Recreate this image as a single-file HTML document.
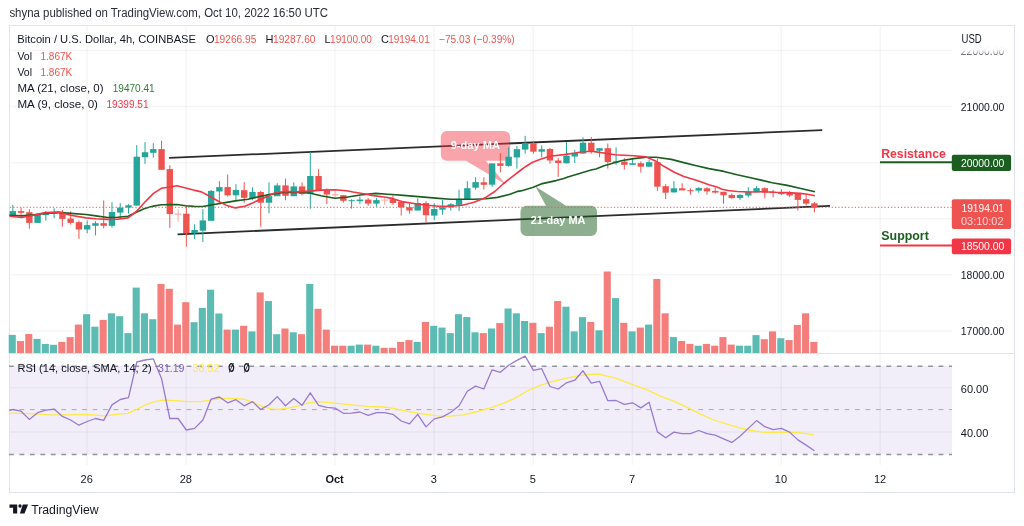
<!DOCTYPE html>
<html lang="en"><head><meta charset="utf-8"><title>BTCUSD 4h chart</title>
<style>html,body{margin:0;padding:0;background:#fff;}body{width:1024px;height:526px;overflow:hidden;font-family:"Liberation Sans", sans-serif;}svg{display:block;}svg text{font-family:"Liberation Sans", sans-serif;}</style>
</head><body>
<svg width="1024" height="526" viewBox="0 0 1024 526">
<rect width="1024" height="526" fill="#fff"/>
<text x="9.4" y="17.3" font-size="12" fill="#2a2e39" textLength="318.6" lengthAdjust="spacingAndGlyphs">shyna published on TradingView.com, Oct 10, 2022 16:50 UTC</text>
<rect x="9.5" y="25.5" width="1005" height="467" fill="#fff" stroke="#e0e3eb" stroke-width="1"/>
<rect x="10" y="366" width="942" height="88.5" fill="#7e57c2" fill-opacity="0.1"/>
<g stroke="#2a2e39" stroke-width="1.5" stroke-opacity="0.045">
<line x1="10" x2="952" y1="50.5" y2="50.5"/>
<line x1="10" x2="952" y1="106.6" y2="106.6"/>
<line x1="10" x2="952" y1="162.7" y2="162.7"/>
<line x1="10" x2="952" y1="218.7" y2="218.7"/>
<line x1="10" x2="952" y1="274.8" y2="274.8"/>
<line x1="10" x2="952" y1="330.9" y2="330.9"/>
<line x1="10" x2="952" y1="387.8" y2="387.8"/>
<line x1="10" x2="952" y1="432.1" y2="432.1"/>
<line x1="87.0" x2="87.0" y1="26" y2="465"/>
<line x1="186.1" x2="186.1" y1="26" y2="465"/>
<line x1="334.9" x2="334.9" y1="26" y2="465"/>
<line x1="434.1" x2="434.1" y1="26" y2="465"/>
<line x1="533.2" x2="533.2" y1="26" y2="465"/>
<line x1="632.4" x2="632.4" y1="26" y2="465"/>
<line x1="781.2" x2="781.2" y1="26" y2="465"/>
<line x1="880.3" x2="880.3" y1="26" y2="465"/>
</g>
<line x1="10" x2="1014" y1="353.5" y2="353.5" stroke="#e0e3eb" stroke-width="1"/>
<g>
<rect x="8.70" y="334.9" width="7.1" height="18.1" fill="#5cbcb3"/>
<rect x="16.96" y="341.0" width="7.1" height="12.0" fill="#f37e7c"/>
<rect x="25.23" y="334.0" width="7.1" height="19.0" fill="#f37e7c"/>
<rect x="33.49" y="338.9" width="7.1" height="14.1" fill="#5cbcb3"/>
<rect x="41.76" y="343.9" width="7.1" height="9.1" fill="#5cbcb3"/>
<rect x="50.02" y="344.8" width="7.1" height="8.2" fill="#5cbcb3"/>
<rect x="58.28" y="341.9" width="7.1" height="11.1" fill="#f37e7c"/>
<rect x="66.55" y="337.1" width="7.1" height="15.9" fill="#f37e7c"/>
<rect x="74.81" y="324.6" width="7.1" height="28.4" fill="#f37e7c"/>
<rect x="83.08" y="314.2" width="7.1" height="38.8" fill="#5cbcb3"/>
<rect x="91.34" y="326.7" width="7.1" height="26.3" fill="#5cbcb3"/>
<rect x="99.60" y="319.9" width="7.1" height="33.1" fill="#f37e7c"/>
<rect x="107.87" y="313.3" width="7.1" height="39.7" fill="#5cbcb3"/>
<rect x="116.13" y="316.2" width="7.1" height="36.8" fill="#5cbcb3"/>
<rect x="124.40" y="333.1" width="7.1" height="19.9" fill="#5cbcb3"/>
<rect x="132.66" y="287.6" width="7.1" height="65.4" fill="#5cbcb3"/>
<rect x="140.92" y="313.3" width="7.1" height="39.7" fill="#5cbcb3"/>
<rect x="149.19" y="319.2" width="7.1" height="33.8" fill="#5cbcb3"/>
<rect x="157.45" y="284.0" width="7.1" height="69.0" fill="#f37e7c"/>
<rect x="165.72" y="288.8" width="7.1" height="64.2" fill="#f37e7c"/>
<rect x="173.98" y="324.6" width="7.1" height="28.4" fill="#f37e7c"/>
<rect x="182.24" y="302.2" width="7.1" height="50.8" fill="#f37e7c"/>
<rect x="190.51" y="322.2" width="7.1" height="30.8" fill="#5cbcb3"/>
<rect x="198.77" y="307.9" width="7.1" height="45.1" fill="#5cbcb3"/>
<rect x="207.04" y="289.7" width="7.1" height="63.3" fill="#5cbcb3"/>
<rect x="215.30" y="313.5" width="7.1" height="39.5" fill="#5cbcb3"/>
<rect x="223.56" y="329.6" width="7.1" height="23.4" fill="#f37e7c"/>
<rect x="231.83" y="329.6" width="7.1" height="23.4" fill="#5cbcb3"/>
<rect x="240.09" y="325.8" width="7.1" height="27.2" fill="#f37e7c"/>
<rect x="248.36" y="331.4" width="7.1" height="21.6" fill="#5cbcb3"/>
<rect x="256.62" y="292.4" width="7.1" height="60.6" fill="#f37e7c"/>
<rect x="264.88" y="301.0" width="7.1" height="52.0" fill="#5cbcb3"/>
<rect x="273.15" y="334.2" width="7.1" height="18.8" fill="#5cbcb3"/>
<rect x="281.41" y="328.5" width="7.1" height="24.5" fill="#f37e7c"/>
<rect x="289.68" y="332.3" width="7.1" height="20.7" fill="#5cbcb3"/>
<rect x="297.94" y="334.2" width="7.1" height="18.8" fill="#f37e7c"/>
<rect x="306.20" y="284.0" width="7.1" height="69.0" fill="#5cbcb3"/>
<rect x="314.47" y="308.8" width="7.1" height="44.2" fill="#f37e7c"/>
<rect x="322.73" y="329.6" width="7.1" height="23.4" fill="#f37e7c"/>
<rect x="331.00" y="345.7" width="7.1" height="7.3" fill="#f37e7c"/>
<rect x="339.26" y="345.7" width="7.1" height="7.3" fill="#f37e7c"/>
<rect x="347.52" y="345.7" width="7.1" height="7.3" fill="#5cbcb3"/>
<rect x="355.79" y="344.6" width="7.1" height="8.4" fill="#5cbcb3"/>
<rect x="364.05" y="344.6" width="7.1" height="8.4" fill="#f37e7c"/>
<rect x="372.32" y="345.7" width="7.1" height="7.3" fill="#5cbcb3"/>
<rect x="380.58" y="347.8" width="7.1" height="5.2" fill="#f37e7c"/>
<rect x="388.84" y="347.8" width="7.1" height="5.2" fill="#f37e7c"/>
<rect x="397.11" y="341.9" width="7.1" height="11.1" fill="#f37e7c"/>
<rect x="405.37" y="340.1" width="7.1" height="12.9" fill="#f37e7c"/>
<rect x="413.64" y="341.9" width="7.1" height="11.1" fill="#5cbcb3"/>
<rect x="421.90" y="321.9" width="7.1" height="31.1" fill="#f37e7c"/>
<rect x="430.16" y="325.8" width="7.1" height="27.2" fill="#5cbcb3"/>
<rect x="438.43" y="327.6" width="7.1" height="25.4" fill="#5cbcb3"/>
<rect x="446.69" y="333.1" width="7.1" height="19.9" fill="#5cbcb3"/>
<rect x="454.96" y="314.2" width="7.1" height="38.8" fill="#5cbcb3"/>
<rect x="463.22" y="317.1" width="7.1" height="35.9" fill="#5cbcb3"/>
<rect x="471.48" y="332.3" width="7.1" height="20.7" fill="#5cbcb3"/>
<rect x="479.75" y="333.1" width="7.1" height="19.9" fill="#f37e7c"/>
<rect x="488.01" y="328.5" width="7.1" height="24.5" fill="#5cbcb3"/>
<rect x="496.28" y="323.1" width="7.1" height="29.9" fill="#f37e7c"/>
<rect x="504.54" y="308.5" width="7.1" height="44.5" fill="#5cbcb3"/>
<rect x="512.80" y="313.3" width="7.1" height="39.7" fill="#5cbcb3"/>
<rect x="521.07" y="321.0" width="7.1" height="32.0" fill="#5cbcb3"/>
<rect x="529.33" y="322.8" width="7.1" height="30.2" fill="#f37e7c"/>
<rect x="537.60" y="333.1" width="7.1" height="19.9" fill="#5cbcb3"/>
<rect x="545.86" y="326.7" width="7.1" height="26.3" fill="#f37e7c"/>
<rect x="554.12" y="301.0" width="7.1" height="52.0" fill="#f37e7c"/>
<rect x="562.39" y="306.7" width="7.1" height="46.3" fill="#5cbcb3"/>
<rect x="570.65" y="331.4" width="7.1" height="21.6" fill="#5cbcb3"/>
<rect x="578.92" y="317.1" width="7.1" height="35.9" fill="#5cbcb3"/>
<rect x="587.18" y="321.9" width="7.1" height="31.1" fill="#f37e7c"/>
<rect x="595.44" y="330.3" width="7.1" height="22.7" fill="#5cbcb3"/>
<rect x="603.71" y="271.5" width="7.1" height="81.5" fill="#f37e7c"/>
<rect x="611.97" y="298.1" width="7.1" height="54.9" fill="#5cbcb3"/>
<rect x="620.24" y="322.8" width="7.1" height="30.2" fill="#f37e7c"/>
<rect x="628.50" y="331.4" width="7.1" height="21.6" fill="#5cbcb3"/>
<rect x="636.76" y="327.6" width="7.1" height="25.4" fill="#f37e7c"/>
<rect x="645.03" y="324.6" width="7.1" height="28.4" fill="#5cbcb3"/>
<rect x="653.29" y="279.0" width="7.1" height="74.0" fill="#f37e7c"/>
<rect x="661.56" y="313.3" width="7.1" height="39.7" fill="#f37e7c"/>
<rect x="669.82" y="337.1" width="7.1" height="15.9" fill="#5cbcb3"/>
<rect x="678.08" y="341.0" width="7.1" height="12.0" fill="#f37e7c"/>
<rect x="686.35" y="343.9" width="7.1" height="9.1" fill="#f37e7c"/>
<rect x="694.61" y="345.7" width="7.1" height="7.3" fill="#5cbcb3"/>
<rect x="702.88" y="343.9" width="7.1" height="9.1" fill="#f37e7c"/>
<rect x="711.14" y="345.7" width="7.1" height="7.3" fill="#f37e7c"/>
<rect x="719.40" y="337.1" width="7.1" height="15.9" fill="#f37e7c"/>
<rect x="727.67" y="344.6" width="7.1" height="8.4" fill="#f37e7c"/>
<rect x="735.93" y="345.7" width="7.1" height="7.3" fill="#5cbcb3"/>
<rect x="744.20" y="345.7" width="7.1" height="7.3" fill="#5cbcb3"/>
<rect x="752.46" y="335.1" width="7.1" height="17.9" fill="#5cbcb3"/>
<rect x="760.72" y="339.2" width="7.1" height="13.8" fill="#f37e7c"/>
<rect x="768.99" y="331.4" width="7.1" height="21.6" fill="#f37e7c"/>
<rect x="777.25" y="338.2" width="7.1" height="14.8" fill="#5cbcb3"/>
<rect x="785.52" y="340.1" width="7.1" height="12.9" fill="#f37e7c"/>
<rect x="793.78" y="324.9" width="7.1" height="28.1" fill="#f37e7c"/>
<rect x="802.04" y="313.3" width="7.1" height="39.7" fill="#f37e7c"/>
<rect x="810.31" y="341.9" width="7.1" height="11.1" fill="#f37e7c"/>
</g>
<g stroke="#2b2b2b" stroke-width="1.8" stroke-linecap="butt">
<line x1="169.1" y1="157.9" x2="822.2" y2="130.1"/>
<line x1="177.6" y1="234.35" x2="830" y2="205.9"/>
</g>
<path d="M446.8,131 H504.2 a6,6 0 0 1 6,6 V154.7 a6,6 0 0 1 -6,6 H485.7 L506.3,184.7 L466,160.7 H446.8 a6,6 0 0 1 -6,-6 V137 a6,6 0 0 1 6,-6 Z" fill="#f23645" fill-opacity="0.45"/>
<text x="450.7" y="148.9" font-size="11.5" fill="#fff" font-weight="bold" textLength="49.3" lengthAdjust="spacingAndGlyphs">9-day MA</text>
<path d="M526.5,205.8 H546 L535.5,186.6 L566,205.8 H591 a6,6 0 0 1 6,6 V230 a6,6 0 0 1 -6,6 H526.5 a6,6 0 0 1 -6,-6 V211.8 a6,6 0 0 1 6,-6 Z" fill="#1b5e20" fill-opacity="0.5"/>
<text x="530.8" y="223.5" font-size="11.5" fill="#fff" font-weight="bold" textLength="54.6" lengthAdjust="spacingAndGlyphs">21-day MA</text>
<g>
<rect x="12.30" y="205.0" width="1" height="12.0" fill="#26a69a"/>
<rect x="9.60" y="211.1" width="6.4" height="5.0" fill="#26a69a"/>
<rect x="20.56" y="207.6" width="1" height="8.7" fill="#ef5350"/>
<rect x="17.86" y="211.1" width="6.4" height="1.7" fill="#ef5350"/>
<rect x="28.83" y="209.2" width="1" height="19.4" fill="#ef5350"/>
<rect x="26.13" y="212.2" width="6.4" height="10.7" fill="#ef5350"/>
<rect x="37.09" y="214.8" width="1" height="8.1" fill="#26a69a"/>
<rect x="34.39" y="214.8" width="6.4" height="8.1" fill="#26a69a"/>
<rect x="45.36" y="211.0" width="1" height="9.7" fill="#26a69a"/>
<rect x="42.66" y="213.2" width="6.4" height="1.9" fill="#26a69a"/>
<rect x="53.62" y="208.2" width="1" height="10.0" fill="#26a69a"/>
<rect x="50.92" y="212.0" width="6.4" height="1.8" fill="#26a69a"/>
<rect x="61.88" y="210.0" width="1" height="16.8" fill="#ef5350"/>
<rect x="59.18" y="212.2" width="6.4" height="6.7" fill="#ef5350"/>
<rect x="70.15" y="211.3" width="1" height="13.2" fill="#ef5350"/>
<rect x="67.45" y="218.6" width="6.4" height="4.3" fill="#ef5350"/>
<rect x="78.41" y="220.5" width="1" height="18.4" fill="#ef5350"/>
<rect x="75.71" y="222.2" width="6.4" height="7.3" fill="#ef5350"/>
<rect x="86.68" y="220.5" width="1" height="12.8" fill="#26a69a"/>
<rect x="83.98" y="225.1" width="6.4" height="4.4" fill="#26a69a"/>
<rect x="94.94" y="221.1" width="1" height="14.3" fill="#26a69a"/>
<rect x="92.24" y="223.2" width="6.4" height="2.6" fill="#26a69a"/>
<rect x="103.20" y="200.4" width="1" height="28.1" fill="#ef5350"/>
<rect x="100.50" y="223.2" width="6.4" height="2.6" fill="#ef5350"/>
<rect x="111.47" y="202.2" width="1" height="25.4" fill="#26a69a"/>
<rect x="108.77" y="212.0" width="6.4" height="13.8" fill="#26a69a"/>
<rect x="119.73" y="203.2" width="1" height="15.4" fill="#26a69a"/>
<rect x="117.03" y="207.6" width="6.4" height="5.0" fill="#26a69a"/>
<rect x="128.00" y="204.2" width="1" height="9.4" fill="#26a69a"/>
<rect x="125.30" y="205.3" width="6.4" height="2.3" fill="#26a69a"/>
<rect x="136.26" y="145.1" width="1" height="60.5" fill="#26a69a"/>
<rect x="133.56" y="156.7" width="6.4" height="48.9" fill="#26a69a"/>
<rect x="144.52" y="142.2" width="1" height="21.7" fill="#26a69a"/>
<rect x="141.82" y="152.2" width="6.4" height="5.0" fill="#26a69a"/>
<rect x="152.79" y="143.2" width="1" height="14.4" fill="#26a69a"/>
<rect x="150.09" y="149.1" width="6.4" height="3.7" fill="#26a69a"/>
<rect x="161.05" y="140.7" width="1" height="29.1" fill="#ef5350"/>
<rect x="158.35" y="149.1" width="6.4" height="20.7" fill="#ef5350"/>
<rect x="169.32" y="165.1" width="1" height="62.8" fill="#ef5350"/>
<rect x="166.62" y="169.1" width="6.4" height="45.0" fill="#ef5350"/>
<rect x="177.58" y="209.1" width="1" height="12.5" fill="#f7a9a7"/>
<rect x="174.88" y="213.5" width="6.4" height="1.2" fill="#f7a9a7"/>
<rect x="185.84" y="205.3" width="1" height="41.4" fill="#ef5350"/>
<rect x="183.14" y="213.7" width="6.4" height="19.5" fill="#ef5350"/>
<rect x="194.11" y="224.2" width="1" height="15.0" fill="#26a69a"/>
<rect x="191.41" y="230.0" width="6.4" height="3.2" fill="#26a69a"/>
<rect x="202.37" y="209.1" width="1" height="32.9" fill="#26a69a"/>
<rect x="199.67" y="220.4" width="6.4" height="10.3" fill="#26a69a"/>
<rect x="210.64" y="190.0" width="1" height="30.8" fill="#26a69a"/>
<rect x="207.94" y="190.9" width="6.4" height="29.9" fill="#26a69a"/>
<rect x="218.90" y="181.2" width="1" height="22.2" fill="#26a69a"/>
<rect x="216.20" y="187.1" width="6.4" height="4.4" fill="#26a69a"/>
<rect x="227.16" y="174.5" width="1" height="22.0" fill="#ef5350"/>
<rect x="224.46" y="187.1" width="6.4" height="8.2" fill="#ef5350"/>
<rect x="235.43" y="184.2" width="1" height="16.7" fill="#26a69a"/>
<rect x="232.73" y="190.0" width="6.4" height="5.3" fill="#26a69a"/>
<rect x="243.69" y="182.2" width="1" height="20.6" fill="#ef5350"/>
<rect x="240.99" y="190.2" width="6.4" height="7.6" fill="#ef5350"/>
<rect x="251.96" y="187.3" width="1" height="12.9" fill="#26a69a"/>
<rect x="249.26" y="192.0" width="6.4" height="6.3" fill="#26a69a"/>
<rect x="260.22" y="190.8" width="1" height="35.9" fill="#ef5350"/>
<rect x="257.52" y="192.0" width="6.4" height="10.7" fill="#ef5350"/>
<rect x="268.48" y="182.4" width="1" height="31.0" fill="#26a69a"/>
<rect x="265.78" y="196.2" width="6.4" height="6.5" fill="#26a69a"/>
<rect x="276.75" y="183.2" width="1" height="13.0" fill="#26a69a"/>
<rect x="274.05" y="185.4" width="6.4" height="10.8" fill="#26a69a"/>
<rect x="285.01" y="178.6" width="1" height="21.6" fill="#ef5350"/>
<rect x="282.31" y="185.4" width="6.4" height="10.4" fill="#ef5350"/>
<rect x="293.28" y="182.4" width="1" height="13.8" fill="#26a69a"/>
<rect x="290.58" y="186.4" width="6.4" height="9.8" fill="#26a69a"/>
<rect x="301.54" y="182.4" width="1" height="13.0" fill="#ef5350"/>
<rect x="298.84" y="186.4" width="6.4" height="7.5" fill="#ef5350"/>
<rect x="309.80" y="151.9" width="1" height="56.8" fill="#26a69a"/>
<rect x="307.10" y="176.0" width="6.4" height="17.9" fill="#26a69a"/>
<rect x="318.07" y="169.1" width="1" height="21.7" fill="#ef5350"/>
<rect x="315.37" y="176.0" width="6.4" height="14.8" fill="#ef5350"/>
<rect x="326.33" y="188.3" width="1" height="15.7" fill="#ef5350"/>
<rect x="323.63" y="190.4" width="6.4" height="4.1" fill="#ef5350"/>
<rect x="334.60" y="190.8" width="1" height="7.5" fill="#f7a9a7"/>
<rect x="331.90" y="194.2" width="6.4" height="1.2" fill="#f7a9a7"/>
<rect x="342.86" y="195.2" width="1" height="7.5" fill="#ef5350"/>
<rect x="340.16" y="195.2" width="6.4" height="5.6" fill="#ef5350"/>
<rect x="351.12" y="199.2" width="1" height="9.5" fill="#26a69a"/>
<rect x="348.42" y="200.2" width="6.4" height="1.0" fill="#26a69a"/>
<rect x="359.39" y="196.4" width="1" height="7.6" fill="#26a69a"/>
<rect x="356.69" y="199.6" width="6.4" height="1.6" fill="#26a69a"/>
<rect x="367.65" y="198.0" width="1" height="7.9" fill="#ef5350"/>
<rect x="364.95" y="199.6" width="6.4" height="4.0" fill="#ef5350"/>
<rect x="375.92" y="198.0" width="1" height="8.8" fill="#26a69a"/>
<rect x="373.22" y="200.1" width="6.4" height="3.5" fill="#26a69a"/>
<rect x="384.18" y="198.0" width="1" height="6.9" fill="#f7a9a7"/>
<rect x="381.48" y="199.6" width="6.4" height="1.0" fill="#f7a9a7"/>
<rect x="392.44" y="195.5" width="1" height="9.4" fill="#ef5350"/>
<rect x="389.74" y="199.2" width="6.4" height="3.8" fill="#ef5350"/>
<rect x="400.71" y="201.8" width="1" height="13.8" fill="#ef5350"/>
<rect x="398.01" y="201.8" width="6.4" height="5.6" fill="#ef5350"/>
<rect x="408.97" y="203.6" width="1" height="10.1" fill="#ef5350"/>
<rect x="406.27" y="207.2" width="6.4" height="3.3" fill="#ef5350"/>
<rect x="417.24" y="198.4" width="1" height="12.1" fill="#26a69a"/>
<rect x="414.54" y="203.0" width="6.4" height="7.5" fill="#26a69a"/>
<rect x="425.50" y="201.1" width="1" height="21.4" fill="#ef5350"/>
<rect x="422.80" y="203.0" width="6.4" height="12.2" fill="#ef5350"/>
<rect x="433.76" y="203.3" width="1" height="16.9" fill="#26a69a"/>
<rect x="431.06" y="209.0" width="6.4" height="6.6" fill="#26a69a"/>
<rect x="442.03" y="200.1" width="1" height="14.6" fill="#26a69a"/>
<rect x="439.33" y="207.2" width="6.4" height="2.5" fill="#26a69a"/>
<rect x="450.29" y="203.0" width="1" height="7.5" fill="#26a69a"/>
<rect x="447.59" y="204.3" width="6.4" height="3.1" fill="#26a69a"/>
<rect x="458.56" y="189.8" width="1" height="21.1" fill="#26a69a"/>
<rect x="455.86" y="199.2" width="6.4" height="5.7" fill="#26a69a"/>
<rect x="466.82" y="181.1" width="1" height="18.8" fill="#26a69a"/>
<rect x="464.12" y="188.2" width="6.4" height="11.7" fill="#26a69a"/>
<rect x="475.08" y="177.3" width="1" height="12.5" fill="#26a69a"/>
<rect x="472.38" y="182.1" width="6.4" height="5.6" fill="#26a69a"/>
<rect x="483.35" y="177.3" width="1" height="12.3" fill="#ef5350"/>
<rect x="480.65" y="182.3" width="6.4" height="2.5" fill="#ef5350"/>
<rect x="491.61" y="163.4" width="1" height="23.5" fill="#26a69a"/>
<rect x="488.91" y="163.4" width="6.4" height="21.3" fill="#26a69a"/>
<rect x="499.88" y="153.0" width="1" height="19.4" fill="#ef5350"/>
<rect x="497.18" y="163.3" width="6.4" height="2.6" fill="#ef5350"/>
<rect x="508.14" y="147.3" width="1" height="19.5" fill="#26a69a"/>
<rect x="505.44" y="156.7" width="6.4" height="9.2" fill="#26a69a"/>
<rect x="516.40" y="146.1" width="1" height="22.6" fill="#26a69a"/>
<rect x="513.70" y="149.2" width="6.4" height="8.2" fill="#26a69a"/>
<rect x="524.67" y="135.8" width="1" height="17.8" fill="#26a69a"/>
<rect x="521.97" y="143.3" width="6.4" height="6.3" fill="#26a69a"/>
<rect x="532.93" y="141.7" width="1" height="11.9" fill="#ef5350"/>
<rect x="530.23" y="143.3" width="6.4" height="8.4" fill="#ef5350"/>
<rect x="541.20" y="145.4" width="1" height="12.0" fill="#26a69a"/>
<rect x="538.50" y="149.2" width="6.4" height="2.5" fill="#26a69a"/>
<rect x="549.46" y="148.0" width="1" height="15.6" fill="#ef5350"/>
<rect x="546.76" y="149.0" width="6.4" height="11.5" fill="#ef5350"/>
<rect x="557.72" y="158.0" width="1" height="18.8" fill="#ef5350"/>
<rect x="555.02" y="160.5" width="6.4" height="2.5" fill="#ef5350"/>
<rect x="565.99" y="142.1" width="1" height="21.5" fill="#26a69a"/>
<rect x="563.29" y="155.7" width="6.4" height="7.6" fill="#26a69a"/>
<rect x="574.25" y="149.8" width="1" height="13.2" fill="#26a69a"/>
<rect x="571.55" y="153.0" width="6.4" height="3.5" fill="#26a69a"/>
<rect x="582.52" y="137.3" width="1" height="16.3" fill="#26a69a"/>
<rect x="579.82" y="142.7" width="6.4" height="10.9" fill="#26a69a"/>
<rect x="590.78" y="137.0" width="1" height="16.6" fill="#ef5350"/>
<rect x="588.08" y="142.7" width="6.4" height="9.0" fill="#ef5350"/>
<rect x="599.04" y="148.2" width="1" height="9.1" fill="#26a69a"/>
<rect x="596.34" y="148.2" width="6.4" height="2.6" fill="#26a69a"/>
<rect x="607.31" y="143.5" width="1" height="25.1" fill="#ef5350"/>
<rect x="604.61" y="148.2" width="6.4" height="13.8" fill="#ef5350"/>
<rect x="615.57" y="147.3" width="1" height="17.5" fill="#26a69a"/>
<rect x="612.87" y="161.3" width="6.4" height="1.3" fill="#26a69a"/>
<rect x="623.84" y="158.2" width="1" height="11.3" fill="#ef5350"/>
<rect x="621.14" y="161.6" width="6.4" height="3.2" fill="#ef5350"/>
<rect x="632.10" y="158.8" width="1" height="6.0" fill="#26a69a"/>
<rect x="629.40" y="163.2" width="6.4" height="1.6" fill="#26a69a"/>
<rect x="640.36" y="161.3" width="1" height="11.3" fill="#ef5350"/>
<rect x="637.66" y="163.2" width="6.4" height="3.5" fill="#ef5350"/>
<rect x="648.63" y="160.1" width="1" height="6.6" fill="#26a69a"/>
<rect x="645.93" y="162.2" width="6.4" height="4.5" fill="#26a69a"/>
<rect x="656.89" y="158.8" width="1" height="32.0" fill="#ef5350"/>
<rect x="654.19" y="162.2" width="6.4" height="24.5" fill="#ef5350"/>
<rect x="665.16" y="184.2" width="1" height="15.0" fill="#ef5350"/>
<rect x="662.46" y="186.2" width="6.4" height="6.5" fill="#ef5350"/>
<rect x="673.42" y="181.2" width="1" height="11.2" fill="#26a69a"/>
<rect x="670.72" y="188.3" width="6.4" height="4.1" fill="#26a69a"/>
<rect x="681.68" y="183.3" width="1" height="7.1" fill="#ef5350"/>
<rect x="678.98" y="188.3" width="6.4" height="2.1" fill="#ef5350"/>
<rect x="689.95" y="188.3" width="1" height="6.3" fill="#ef5350"/>
<rect x="687.25" y="190.2" width="6.4" height="1.0" fill="#ef5350"/>
<rect x="698.21" y="187.1" width="1" height="5.6" fill="#26a69a"/>
<rect x="695.51" y="188.1" width="6.4" height="2.5" fill="#26a69a"/>
<rect x="706.48" y="187.1" width="1" height="7.5" fill="#ef5350"/>
<rect x="703.78" y="188.3" width="6.4" height="3.1" fill="#ef5350"/>
<rect x="714.74" y="187.8" width="1" height="5.6" fill="#ef5350"/>
<rect x="712.04" y="190.9" width="6.4" height="1.7" fill="#ef5350"/>
<rect x="723.00" y="191.8" width="1" height="12.0" fill="#ef5350"/>
<rect x="720.30" y="191.8" width="6.4" height="3.4" fill="#ef5350"/>
<rect x="731.27" y="193.4" width="1" height="5.5" fill="#ef5350"/>
<rect x="728.57" y="194.9" width="6.4" height="3.1" fill="#ef5350"/>
<rect x="739.53" y="194.2" width="1" height="5.7" fill="#26a69a"/>
<rect x="736.83" y="194.9" width="6.4" height="3.1" fill="#26a69a"/>
<rect x="747.80" y="187.3" width="1" height="10.1" fill="#26a69a"/>
<rect x="745.10" y="191.7" width="6.4" height="3.8" fill="#26a69a"/>
<rect x="756.06" y="186.1" width="1" height="6.2" fill="#26a69a"/>
<rect x="753.36" y="188.2" width="6.4" height="4.1" fill="#26a69a"/>
<rect x="764.32" y="187.3" width="1" height="11.1" fill="#ef5350"/>
<rect x="761.62" y="188.2" width="6.4" height="4.4" fill="#ef5350"/>
<rect x="772.59" y="189.8" width="1" height="7.6" fill="#ef5350"/>
<rect x="769.89" y="191.7" width="6.4" height="1.0" fill="#ef5350"/>
<rect x="780.85" y="189.2" width="1" height="6.0" fill="#26a69a"/>
<rect x="778.15" y="192.6" width="6.4" height="1.6" fill="#26a69a"/>
<rect x="789.12" y="191.1" width="1" height="6.0" fill="#ef5350"/>
<rect x="786.42" y="192.6" width="6.4" height="2.9" fill="#ef5350"/>
<rect x="797.38" y="193.9" width="1" height="16.6" fill="#ef5350"/>
<rect x="794.68" y="193.9" width="6.4" height="6.0" fill="#ef5350"/>
<rect x="805.64" y="194.9" width="1" height="10.6" fill="#ef5350"/>
<rect x="802.94" y="199.2" width="6.4" height="4.4" fill="#ef5350"/>
<rect x="813.91" y="202.1" width="1" height="10.3" fill="#ef5350"/>
<rect x="811.21" y="203.3" width="6.4" height="4.1" fill="#ef5350"/>
</g>
<path d="M9.5,215.3 L21.7,215.9 L33.4,214.9 L45.1,213.4 L58.8,212.4 L70.5,213.4 L86.1,214.5 L95.9,215.9 L107.6,217.5 L117.4,217.3 L128.1,216.3 L136.9,212.0 L144.7,208.5 L153.5,206.1 L161.3,204.8 L170.1,204.6 L176.9,204.5 L185.7,205.7 L193.6,206.4 L202.8,206.5 L211.7,204.9 L215.4,204.3 L226.7,202.4 L235.4,200.9 L248.0,199.3 L258.6,196.8 L270.3,194.4 L284.0,192.5 L297.7,192.5 L309.4,193.0 L321.1,195.8 L334.8,198.3 L346.5,197.3 L360.2,195.0 L375.8,193.4 L387.5,194.2 L392.0,194.5 L403.7,195.4 L415.4,196.4 L427.2,197.4 L438.9,198.4 L450.6,199.3 L462.3,199.3 L474.0,199.3 L485.8,198.8 L497.5,197.4 L509.2,194.5 L517.4,191.4 L520.9,190.9 L532.6,187.6 L541.2,183.9 L556.1,180.6 L563.8,178.5 L567.8,176.9 L579.5,173.4 L582.7,172.4 L592.0,169.8 L596.0,169.0 L604.0,165.7 L608.5,164.5 L621.1,160.7 L633.6,158.6 L646.2,157.3 L656.2,157.3 L671.3,159.4 L683.8,162.6 L696.4,165.7 L708.9,168.6 L724.0,171.4 L737.1,174.8 L749.6,177.5 L762.2,180.4 L772.2,182.7 L787.3,185.4 L799.8,188.3 L814.9,191.7" fill="none" stroke="#1b5e20" stroke-width="1.6" stroke-linejoin="round"/>
<path d="M9.5,216.3 L21.7,217.5 L33.4,215.3 L45.1,212.6 L58.8,212.0 L70.5,215.3 L86.1,217.9 L95.9,218.8 L107.6,219.4 L117.4,219.2 L128.1,217.9 L136.9,211.0 L144.7,202.2 L153.5,193.4 L161.3,188.3 L170.1,187.0 L177.0,185.8 L185.7,188.0 L193.6,190.1 L201.4,191.9 L207.8,195.3 L219.3,201.8 L227.0,205.6 L235.3,207.9 L244.9,206.3 L252.5,202.9 L265.5,197.2 L274.0,193.3 L284.0,191.5 L297.7,191.9 L309.4,191.1 L321.1,190.1 L335.0,189.7 L346.5,190.7 L353.0,192.0 L366.7,194.2 L371.9,195.4 L385.5,197.3 L392.0,198.4 L403.7,201.9 L415.4,203.8 L427.2,205.2 L438.9,206.2 L450.6,206.2 L462.3,205.2 L474.0,202.3 L485.8,197.4 L494.8,191.5 L503.0,184.0 L513.6,175.6 L520.9,170.0 L526.2,166.2 L532.6,162.2 L541.2,158.9 L550.0,156.2 L563.8,154.6 L575.0,153.0 L582.7,151.7 L592.0,151.3 L596.0,151.9 L604.0,153.0 L614.8,154.8 L633.6,155.7 L646.2,156.9 L655.0,160.7 L663.8,166.3 L673.8,172.0 L683.8,176.4 L696.4,180.2 L708.9,184.7 L717.0,186.9 L722.0,189.2 L728.3,190.5 L737.1,191.5 L749.6,192.0 L762.2,191.7 L774.7,192.3 L787.3,192.6 L799.8,193.4 L807.4,194.2 L814.9,195.7" fill="none" stroke="#f23645" stroke-width="1.6" stroke-linejoin="round"/>
<line x1="10" x2="952" y1="207.3" y2="207.3" stroke="#ef5350" stroke-width="1" stroke-dasharray="1.2 2.1"/>
<g stroke="#787b86" stroke-dasharray="4.8 5.644">
<line x1="9.05" x2="952" y1="366.2" y2="366.2" stroke-width="1.4" stroke-opacity="0.8"/>
<line x1="9.05" x2="952" y1="454.5" y2="454.5" stroke-width="1.4" stroke-opacity="0.8"/>
<line x1="9.05" x2="952" y1="409.6" y2="409.6" stroke-width="1" stroke-opacity="0.6"/>
</g>
<path d="M9.5,413.1 L28.9,413.7 L49.8,414.8 L66.6,414.8 L87.5,414.3 L104.2,415.8 L116.8,414.3 L128.3,413.1 L137.7,408.9 L146.1,404.7 L154.4,401.6 L162.8,400.1 L175.4,400.7 L187.9,401.6 L200.5,401.7 L210.5,400.1 L220.9,398.4 L233.5,398.4 L243.9,399.1 L252.3,402.2 L262.8,406.4 L271.1,408.9 L278.5,409.5 L287.9,408.1 L298.3,406.0 L308.8,402.8 L317.2,401.6 L329.7,402.6 L346.4,404.3 L367.4,406.4 L384.1,407.0 L392.0,408.1 L408.7,411.6 L425.5,414.3 L438.0,415.8 L450.6,416.2 L463.1,414.8 L475.7,412.0 L488.2,408.5 L500.8,404.3 L513.3,399.1 L525.9,391.7 L538.4,386.1 L551.0,381.9 L563.5,378.8 L576.1,376.1 L588.7,374.4 L598.6,374.0 L615.4,378.2 L632.1,384.4 L648.9,390.7 L661.4,396.6 L674.0,401.2 L688.6,408.1 L701.2,414.3 L713.7,420.0 L726.3,423.8 L738.8,427.7 L751.4,430.5 L763.9,432.3 L780.9,432.1 L797.7,432.5 L806.0,433.6 L814.0,434.8" fill="none" stroke="#fde94a" stroke-width="1.3" stroke-linejoin="round"/>
<path d="M9.5,410.6 L12.8,409.5 L21.1,411.2 L29.3,419.4 L37.6,412.7 L45.9,410.2 L54.1,409.1 L62.4,416.4 L70.6,420.0 L78.9,425.2 L87.2,421.5 L95.4,418.5 L103.7,420.4 L112.0,404.9 L120.2,399.5 L128.5,397.6 L136.8,362.0 L145.0,360.0 L153.3,358.9 L161.6,378.8 L169.8,418.5 L178.1,418.5 L186.3,430.0 L194.6,428.4 L202.9,420.0 L211.1,399.1 L219.4,397.0 L227.7,402.8 L235.9,399.7 L244.2,405.8 L252.5,401.6 L260.7,409.5 L269.0,404.7 L277.2,396.6 L285.5,405.8 L293.8,398.4 L302.0,405.3 L310.3,392.8 L318.6,405.3 L326.8,407.4 L335.1,408.1 L343.4,413.3 L351.6,413.1 L359.9,412.0 L368.2,415.4 L376.4,412.7 L384.7,412.7 L392.9,414.3 L401.2,421.0 L409.5,423.8 L417.7,414.3 L426.0,426.9 L434.3,418.9 L442.5,416.9 L450.8,412.3 L459.1,405.8 L467.3,391.3 L475.6,386.1 L483.8,389.0 L492.1,369.8 L500.4,372.3 L508.6,365.2 L516.9,360.4 L525.2,356.2 L533.4,370.4 L541.7,368.7 L550.0,386.5 L558.2,389.0 L566.5,382.8 L574.8,380.2 L583.0,370.8 L591.3,383.2 L599.5,381.3 L607.8,400.7 L616.1,400.5 L624.3,404.3 L632.6,402.8 L640.9,407.9 L649.1,402.2 L657.4,431.9 L665.7,437.8 L673.9,432.1 L682.2,433.6 L690.4,433.6 L698.7,430.5 L707.0,433.6 L715.2,435.1 L723.5,438.8 L731.8,442.4 L740.0,436.3 L748.3,428.4 L756.6,420.6 L764.8,426.7 L773.1,429.6 L781.4,428.4 L789.6,432.1 L797.9,439.9 L806.1,445.1 L814.4,450.7" fill="none" stroke="#8f6dcb" stroke-opacity="0.9" stroke-width="1.3" stroke-linejoin="round"/>
<text x="17.3" y="43.4" font-size="11" fill="#131722" textLength="178.7" lengthAdjust="spacingAndGlyphs">Bitcoin / U.S. Dollar, 4h, COINBASE</text>
<text x="205.9" y="43.4" font-size="11" fill="#131722">O</text>
<text x="213.9" y="43.4" font-size="11" fill="#ef5350" textLength="42.5" lengthAdjust="spacingAndGlyphs">19266.95</text>
<text x="265.4" y="43.4" font-size="11" fill="#131722">H</text>
<text x="273" y="43.4" font-size="11" fill="#ef5350" textLength="42.5" lengthAdjust="spacingAndGlyphs">19287.60</text>
<text x="324.5" y="43.4" font-size="11" fill="#131722">L</text>
<text x="330.1" y="43.4" font-size="11" fill="#ef5350" textLength="41.8" lengthAdjust="spacingAndGlyphs">19100.00</text>
<text x="380.9" y="43.4" font-size="11" fill="#131722">C</text>
<text x="388.2" y="43.4" font-size="11" fill="#ef5350" textLength="41.5" lengthAdjust="spacingAndGlyphs">19194.01</text>
<text x="439" y="43.4" font-size="11" fill="#ef5350" textLength="75.7" lengthAdjust="spacingAndGlyphs">−75.03 (−0.39%)</text>
<text x="17.4" y="59.5" font-size="11" fill="#131722" textLength="14.6" lengthAdjust="spacingAndGlyphs">Vol</text>
<text x="40.4" y="59.5" font-size="11" fill="#ef5350" textLength="31.9" lengthAdjust="spacingAndGlyphs">1.867K</text>
<text x="17.4" y="75.6" font-size="11" fill="#131722" textLength="14.6" lengthAdjust="spacingAndGlyphs">Vol</text>
<text x="40.4" y="75.6" font-size="11" fill="#ef5350" textLength="31.9" lengthAdjust="spacingAndGlyphs">1.867K</text>
<text x="17.4" y="91.7" font-size="11" fill="#131722" textLength="86.1" lengthAdjust="spacingAndGlyphs">MA (21, close, 0)</text>
<text x="112.7" y="91.7" font-size="11" fill="#2e7d32" textLength="42" lengthAdjust="spacingAndGlyphs">19470.41</text>
<text x="17.4" y="107.8" font-size="11" fill="#131722" textLength="80.6" lengthAdjust="spacingAndGlyphs">MA (9, close, 0)</text>
<text x="106.5" y="107.8" font-size="11" fill="#f23645" textLength="42" lengthAdjust="spacingAndGlyphs">19399.51</text>
<text x="17.6" y="371.8" font-size="11" fill="#131722" textLength="134" lengthAdjust="spacingAndGlyphs">RSI (14, close, SMA, 14, 2)</text>
<text x="158" y="371.8" font-size="11" fill="#7e57c2" textLength="26.5" lengthAdjust="spacingAndGlyphs">31.19</text>
<text x="192.5" y="371.8" font-size="11" fill="#fde94a" textLength="27" lengthAdjust="spacingAndGlyphs">38.52</text>
<text x="228.3" y="372.3" font-size="12" fill="#131722" font-weight="bold" textLength="6.3" lengthAdjust="spacingAndGlyphs">Ø</text>
<text x="243.6" y="372.3" font-size="12" fill="#131722" font-weight="bold" textLength="6.3" lengthAdjust="spacingAndGlyphs">Ø</text>
<rect x="953" y="27" width="60" height="17" fill="#fff"/>
<text x="960.8" y="110.8" font-size="11" fill="#131722" textLength="43.5" lengthAdjust="spacingAndGlyphs">21000.00</text>
<text x="960.8" y="279.0" font-size="11" fill="#131722" textLength="43.5" lengthAdjust="spacingAndGlyphs">18000.00</text>
<text x="960.8" y="335.1" font-size="11" fill="#131722" textLength="43.5" lengthAdjust="spacingAndGlyphs">17000.00</text>
<text x="960.8" y="54.9" font-size="11" fill="#131722" textLength="43.5" lengthAdjust="spacingAndGlyphs">22000.00</text>
<linearGradient id="fade" x1="0" y1="0" x2="0" y2="1"><stop offset="0" stop-color="#fff" stop-opacity="1"/><stop offset="0.5" stop-color="#fff" stop-opacity="0.95"/><stop offset="0.8" stop-color="#fff" stop-opacity="0.55"/><stop offset="1" stop-color="#fff" stop-opacity="0"/></linearGradient>
<rect x="953" y="44" width="60" height="11.5" fill="url(#fade)"/>
<text x="961.5" y="42.7" font-size="12" fill="#131722" textLength="20.2" lengthAdjust="spacingAndGlyphs">USD</text>
<text x="960.8" y="392.7" font-size="11" fill="#131722" textLength="27.5" lengthAdjust="spacingAndGlyphs">60.00</text>
<text x="960.8" y="436.9" font-size="11" fill="#131722" textLength="27.5" lengthAdjust="spacingAndGlyphs">40.00</text>
<text x="86.7" y="483" font-size="11" fill="#131722" text-anchor="middle">26</text>
<text x="185.8" y="483" font-size="11" fill="#131722" text-anchor="middle">28</text>
<text x="334.6" y="483" font-size="11" fill="#131722" font-weight="bold" text-anchor="middle">Oct</text>
<text x="433.8" y="483" font-size="11" fill="#131722" text-anchor="middle">3</text>
<text x="532.9" y="483" font-size="11" fill="#131722" text-anchor="middle">5</text>
<text x="632.1" y="483" font-size="11" fill="#131722" text-anchor="middle">7</text>
<text x="780.9" y="483" font-size="11" fill="#131722" text-anchor="middle">10</text>
<text x="880.0" y="483" font-size="11" fill="#131722" text-anchor="middle">12</text>
<line x1="880" x2="952" y1="162.3" y2="162.3" stroke="#1b5e20" stroke-width="2"/>
<text x="881.2" y="158.2" font-size="12.5" fill="#f23645" font-weight="bold" textLength="64.6" lengthAdjust="spacingAndGlyphs">Resistance</text>
<rect x="951.8" y="154.8" width="59.3" height="16.1" rx="2" fill="#1b5e20"/>
<text x="960.9" y="166.8" font-size="11" fill="#fff" textLength="43.5" lengthAdjust="spacingAndGlyphs">20000.00</text>
<rect x="951.8" y="199.3" width="59.3" height="29.7" rx="2" fill="#ef5350"/>
<text x="961.5" y="212" font-size="11" fill="#fff" textLength="42.5" lengthAdjust="spacingAndGlyphs">19194.01</text>
<text x="961" y="225.2" font-size="11" fill="#fff" textLength="42.5" lengthAdjust="spacingAndGlyphs" fill-opacity="0.75">03:10:02</text>
<line x1="880" x2="952" y1="245.5" y2="245.5" stroke="#f23645" stroke-width="2"/>
<text x="881.3" y="239.6" font-size="12.5" fill="#1b5e20" font-weight="bold" textLength="47.5" lengthAdjust="spacingAndGlyphs">Support</text>
<rect x="951.8" y="238.4" width="59.3" height="15.8" rx="2" fill="#f23645"/>
<text x="960.9" y="250.3" font-size="11" fill="#fff" textLength="43.5" lengthAdjust="spacingAndGlyphs">18500.00</text>
<g fill="#131722">
<path d="M9.5,504.4 H17.2 V513.5 H13.1 V507.8 H9.5 Z"/>
<circle cx="20" cy="506" r="1.65"/>
<path d="M22.8,504.4 H28.1 L24.5,513.5 H19.9 Z"/>
</g>
<text x="31.2" y="513.5" font-size="12.3" fill="#131722" textLength="67.4" lengthAdjust="spacingAndGlyphs">TradingView</text>
</svg>
</body></html>
